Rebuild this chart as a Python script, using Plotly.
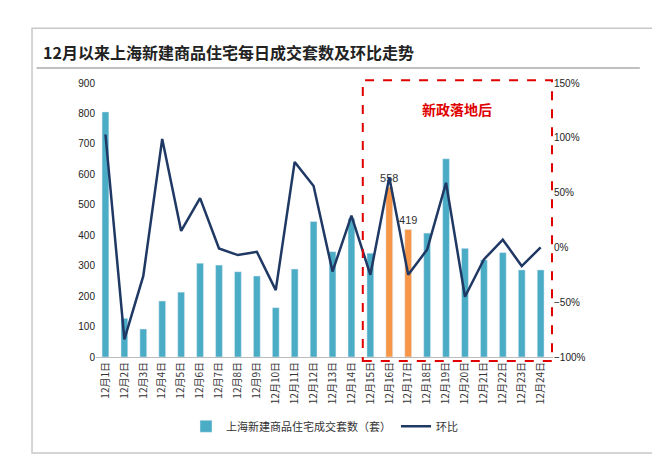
import plotly.graph_objects as go

dates = [f"12月{i}日" for i in range(1, 25)]
volume = [805,127,92,184,213,308,302,280,266,162,289,445,346,455,341,558,419,407,651,357,319,343,286,286]
mom = [103,-84,-26,99,15,45,-1,-7,-4,-39,78,56,-22,29,-25,64,-25,-2,59,-45,-11,7,-17,0]
highlight = {"12月16日": "558", "12月17日": "419"}

colors = ["#F79646" if d in highlight else "#4BACC6" for d in dates]
texts = [highlight.get(d, "") for d in dates]

fig = go.Figure()
fig.add_trace(go.Bar(x=dates, y=volume, name="上海新建商品住宅成交套数（套）",
                     marker_color=colors, width=0.36, text=texts, textposition="outside",
                     constraintext="none",
                     textfont=dict(size=11, color="#333", family="Arial"), cliponaxis=False))
fig.add_trace(go.Scatter(x=dates, y=mom, name="环比", yaxis="y2", mode="lines",
                         line=dict(color="#1F3864", width=2.5)))

fig.update_layout(
    width=660, height=462,
    paper_bgcolor="white", plot_bgcolor="white",
    margin=dict(l=88, r=115, t=75, b=113, autoexpand=False),
    font=dict(family="Arial, Noto Sans CJK SC", size=10, color="#333"),
    xaxis=dict(tickangle=-90, showgrid=False, showline=True, linecolor="#bbb",
               tickfont=dict(size=10, family="Noto Sans CJK SC")),
    yaxis=dict(range=[0, 900], dtick=100, showgrid=False, tickfont=dict(size=10, color="#222")),
    yaxis2=dict(range=[-100, 150], dtick=50, overlaying="y", side="right", showgrid=False,
                ticksuffix="%", tickfont=dict(size=10, color="#222")),
    legend=dict(orientation="h", x=0.5, xanchor="center", y=-0.2, yanchor="top",
                font=dict(size=11, family="Noto Sans CJK SC")),
    title=dict(text="<b>12月以来上海新建商品住宅每日成交套数及环比走势</b>", x=35/660, xanchor="left",
               y=1-45/462, yanchor="middle", font=dict(size=16, color="#222", family="Noto Sans CJK SC")),
    shapes=[
        dict(type="rect", xref="paper", yref="paper", x0=-0.14, x1=1.24, y0=-0.35, y1=1.2,
             line=dict(color="#c8c8c8", width=1.5)),
        dict(type="line", xref="paper", yref="paper", x0=-0.13, x1=1.19, y0=1.055, y1=1.055,
             line=dict(color="#bfbfbf", width=2)),
        dict(type="rect", xref="x", yref="paper", x0=13.6, x1=23.6, y0=-0.015, y1=1.01,
             line=dict(color="#E00000", width=2, dash="dash")),
    ],
    annotations=[dict(text="<b>新政落地后</b>", xref="x", yref="paper", x=18.6, y=0.95,
                      showarrow=False, font=dict(size=14, color="#E00000", family="Noto Sans CJK SC"))],
)
fig.write_html("out.html")
